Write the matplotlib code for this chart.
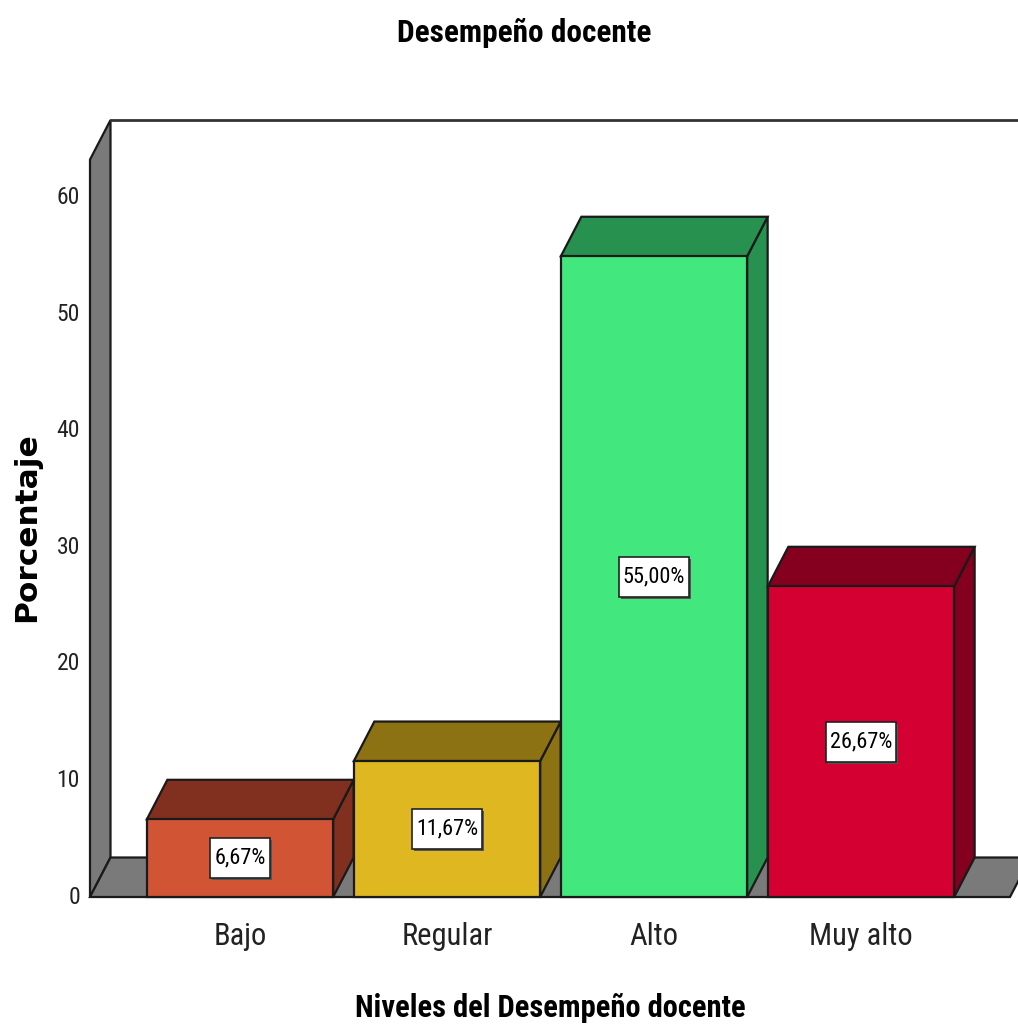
import matplotlib
matplotlib.use("Agg")
import matplotlib.pyplot as plt
from matplotlib.patches import Polygon, Rectangle
from matplotlib.transforms import IdentityTransform
from matplotlib import font_manager

categories = ["Bajo", "Regular", "Alto", "Muy alto"]
values = [6.67, 11.67, 55.00, 26.67]
front_colors = ["#D15534", "#DFB821", "#42E87E", "#D50032"]
top_colors = ["#81301F", "#8C7213", "#27924F", "#85001F"]
yticks = [0, 10, 20, 30, 40, 50, 60]

names = {f.name for f in font_manager.fontManager.ttflist}
narrow = "Liberation Sans"
for cand in ["Liberation Sans Narrow", "Roboto Condensed", "Archivo Narrow",
             "PT Sans Narrow", "Asap Condensed", "Sofia Sans Condensed"]:
    if cand in names:
        narrow = cand
        break

fig = plt.figure(figsize=(10.18, 10.30), dpi=100)
ax = fig.add_axes([0, 0, 1, 1])
ax.set_xlim(-240 / 207, (1018 - 240) / 207)
ax.set_ylim((897 - 1030) / 11.65, 897 / 11.65)
ax.axis("off")

DX = 20.5 / 207
DY = 39.5 / 11.65
W = 0.9
xw = (90 - 240) / 207
ytop = 63.3
xr = (1010 - 240) / 207
wall_c = "#7A7A7A"
edge = "#1a1a1a"
lw = 1.6

# left wall
ax.add_patch(Polygon([(xw, 0), (xw, ytop), (xw + DX, ytop + DY), (xw + DX, DY)],
                     closed=True, fc=wall_c, ec=edge, lw=lw, zorder=2))
# back wall top line
ax.plot([xw + DX, 5], [ytop + DY, ytop + DY], color="#333333", lw=2, zorder=2)
# floor
ax.add_patch(Polygon([(xw, 0), (xr, 0), (xr + DX, DY), (xw + DX, DY)],
                     closed=True, fc=wall_c, ec=edge, lw=lw, zorder=2))

# bars
for i, (v, fc, tc) in enumerate(zip(values, front_colors, top_colors)):
    x0 = i - W / 2
    x1 = i + W / 2
    ax.add_patch(Polygon([(x1, 0), (x1 + DX, DY), (x1 + DX, v + DY), (x1, v)],
                         closed=True, fc=tc, ec=edge, lw=lw, zorder=3))
    ax.add_patch(Polygon([(x0, v), (x0 + DX, v + DY), (x1 + DX, v + DY), (x1, v)],
                         closed=True, fc=tc, ec=edge, lw=lw, zorder=3))
    ax.add_patch(Rectangle((x0, 0), W, v, fc=fc, ec=edge, lw=lw, zorder=4))

# y tick labels
for t in yticks:
    ax.text((80 - 240) / 207, t, str(t), ha="right", va="center",
            fontsize=17, family=narrow, color="#222222")

# category labels
for i, c in enumerate(categories):
    ax.text(i, -3.4, c, ha="center", va="center", fontsize=22,
            family=narrow, color="#222222")

# value labels
texts = []
for i, v in enumerate(values):
    lab = f"{v:.2f}".replace(".", ",") + "%"
    t = ax.text(i, v / 2, lab, ha="center", va="center", fontsize=16,
                family=narrow, color="black", zorder=11)
    texts.append(t)

fig.canvas.draw()
r = fig.canvas.get_renderer()
for t in texts:
    bb = t.get_window_extent(renderer=r)
    cx = (bb.x0 + bb.x1) / 2
    cy = (bb.y0 + bb.y1) / 2
    w = bb.width + 8
    h = 40
    ax.add_patch(Rectangle((cx - w / 2 + 2, cy - h / 2 - 2), w, h, fc="#555555",
                           ec="none", transform=IdentityTransform(), zorder=9))
    ax.add_patch(Rectangle((cx - w / 2, cy - h / 2), w, h, fc="white",
                           ec="#222222", lw=1.2, transform=IdentityTransform(), zorder=10))

# titles
fig.text(524 / 1018, 1 - 33 / 1030, "Desempeño docente", ha="center", va="center",
         fontsize=22.5, family=narrow, fontweight="bold")
fig.text(550 / 1018, 1 - 1008 / 1030, "Niveles del Desempeño docente", ha="center",
         va="center", fontsize=22, family=narrow, fontweight="bold")
fig.text(27 / 1018, 1 - 527 / 1030, "Porcentaje", ha="center", va="center",
         rotation=90, fontsize=22.5, family="DejaVu Sans", fontweight="bold")

fig.savefig("out.png", dpi=100)
